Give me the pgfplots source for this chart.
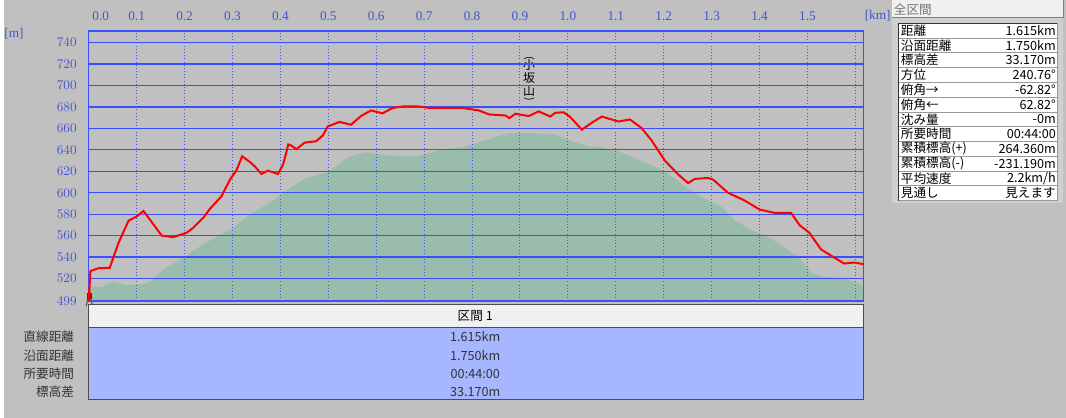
\documentclass[border=0pt]{standalone}
\usepackage{pgfplots}
\pgfplotsset{compat=1.18}
\usepackage{fontspec}
\setmainfont{Noto Sans CJK JP}
\newfontfamily\numfont{Liberation Serif}

\definecolor{bggray}{HTML}{C0C0C0}
\definecolor{plotbg}{HTML}{DCDCDC}
\definecolor{gridblue}{HTML}{3A50FF}
\definecolor{tickblue}{HTML}{4455CC}
\definecolor{terrain}{HTML}{9ABDAB}
\definecolor{rowblue}{HTML}{A6B6FF}
\definecolor{hdrwhite}{HTML}{F0F0F0}
\definecolor{panelgray}{HTML}{D0D0D0}

% one row of the summary panel: row index, label, value
\newcommand\prow[3]{%
  \node[anchor=west,inner sep=0] at (900,{23+14.83*(#1+0.5)}) {#2};
  \node[anchor=east,inner sep=0] at (1056,{23+14.83*(#1+0.5)}) {#3};}

\begin{document}
\begin{tikzpicture}[font=\fontsize{9.5}{11}\selectfont]
% screen pixels: 1px = 0.75pt, y downwards
\begin{scope}[x=0.75pt,y=-0.75pt]
\useasboundingbox (0,0) rectangle (1066,419);
\fill[bggray] (0,0) rectangle (1066,419);
\end{scope}

\begin{axis}[
  at={(63.75pt,-226.5pt)}, anchor=south west, scale only axis,
  width=583.5pt, height=203.25pt,
  xmin=0, xmax=1.6175, ymin=499, ymax=750.6,
  set layers=axis on top,
  axis background/.style={fill=plotbg},
  axis line style={gridblue, line width=1pt},
  xtick={0.1,0.2,0.3,0.4,0.5,0.6,0.7,0.8,0.9,1.0,1.1,1.2,1.3,1.4,1.5,1.6},
  xticklabels={0.1,0.2,0.3,0.4,0.5,0.6,0.7,0.8,0.9,1.0,1.1,1.2,1.3,1.4,1.5,{}},
  xticklabel pos=upper,
  ytick={499,520,540,560,580,600,620,640,660,680,700,720,740},
  major tick length=0pt,
  xmajorgrids, ymajorgrids,
  x grid style={gridblue, dotted, line width=0.75pt},
  y grid style={gridblue, line width=1pt},
  tick label style={font=\numfont\fontsize{10}{12}\selectfont, text=tickblue},
  xticklabel style={yshift=4pt},
  yticklabel style={xshift=-5.5pt},
]
\addplot[draw=none, fill=terrain] coordinates {
  (0,499) (0,512.3) (0.0277,512.3) (0.0484,517) (0.0796,513.9) (0.1143,514.8)
  (0.1316,518) (0.1559,528.7) (0.1975,539.6) (0.2391,552) (0.3015,567.4)
  (0.3362,579.8) (0.3778,590.6) (0.4262,606) (0.4538,613.8) (0.4990,619)
  (0.5441,634) (0.5786,637.6) (0.6202,634.8) (0.6826,634) (0.7380,640)
  (0.7865,643) (0.8281,649) (0.8767,655.4) (0.8975,656) (0.9736,654.4)
  (1.0015,649) (1.0430,643) (1.0707,642.3) (1.1054,638.6) (1.1400,632.4)
  (1.2023,620) (1.2439,606) (1.2786,596) (1.3202,587) (1.3479,574.6)
  (1.3825,565.3) (1.4172,559) (1.4449,551.3) (1.4796,540.6) (1.5073,525)
  (1.5349,522) (1.5765,520.4) (1.6044,515.8) (1.6175,512.7) (1.6175,499)
};
\addplot[on layer=axis foreground, red, line width=1.5pt] coordinates {
  (0,499) (0.0035,527) (0.0208,529.7) (0.0437,530) (0.0624,553.5) (0.0832,574)
  (0.1004,578) (0.1143,583) (0.1351,570.5) (0.1524,560) (0.1767,558.7)
  (0.2044,562.8) (0.2183,567.4) (0.2391,576.7) (0.2530,585) (0.2771,596.8)
  (0.2946,612) (0.3083,621) (0.3202,634) (0.3362,628.7) (0.3466,624.6)
  (0.3603,617.5) (0.3742,620.6) (0.3950,617.5) (0.4054,626) (0.4127,638)
  (0.4165,645) (0.4227,644) (0.4331,640.6) (0.4505,646.7) (0.4746,648)
  (0.4886,653.5) (0.4990,661.8) (0.5233,666) (0.5474,663.4) (0.5682,671.5)
  (0.5890,676.7) (0.6133,674) (0.6341,679) (0.6549,680.4) (0.6896,680.4)
  (0.7104,679) (0.7796,679) (0.8143,676.7) (0.8351,673) (0.8696,672)
  (0.8780,669.6) (0.8904,673.6) (0.9183,671.5) (0.9391,675.8) (0.9632,671)
  (0.9736,674.5) (0.9911,675) (1.0048,670.6) (1.0291,658.8) (1.0499,665.3)
  (1.0707,671) (1.1054,666.4) (1.1295,668.3) (1.1538,660.3) (1.1746,648.8)
  (1.2023,630) (1.2301,617) (1.2509,609) (1.2647,612.9) (1.2925,613.8)
  (1.3029,612.3) (1.3341,600) (1.3686,592.8) (1.3998,584.4) (1.4310,581.3)
  (1.4657,581.3) (1.4830,570) (1.5037,562.8) (1.5281,547.3) (1.5557,539.6)
  (1.5765,534) (1.5973,535) (1.6175,533.4)
};
\end{axis}

\begin{scope}[x=0.75pt,y=-0.75pt]
% extra axis texts
\node[text=tickblue, font=\numfont\fontsize{10}{12}\selectfont] at (97,16) {0.0};
\node[text=tickblue, font=\numfont\fontsize{10}{12}\selectfont] at (877,16) {[km]};
\node[text=tickblue, font=\numfont\fontsize{10}{12}\selectfont] at (10,34) {[m]};

% peak name, vertical
\node[inner sep=0, font=\fontsize{8}{8}\selectfont] at (527,58) {\rotatebox{-90}{(}};
\node[inner sep=0, font=\fontsize{9}{10}\selectfont] at (527,65) {小};
\node[inner sep=0, font=\fontsize{9}{10}\selectfont] at (527,78) {坂};
\node[inner sep=0, font=\fontsize{9}{10}\selectfont] at (527,91) {山};
\node[inner sep=0, font=\fontsize{8}{8}\selectfont] at (527,99) {\rotatebox{-90}{)}};

% walker icon at start
\fill[red!70!black] (83,294) rectangle (88,300);
\fill[orange] (84.5,291) rectangle (87,294);
\draw[brown!60!black, line width=0.8pt] (84,300) -- (82.5,307) (87,300) -- (89,307);

% bottom section table
\filldraw[fill=hdrwhite, draw=black!70] (85,305) rectangle (862,328);
\filldraw[fill=rowblue, draw=black!70] (85,328) rectangle (862,401);
\node at (473,317) {区間 1};
\begin{scope}[text=black!80]
\node at (473,338) {1.615km};
\node at (473,357) {1.750km};
\node at (473,375) {00:44:00};
\node at (473,393) {33.170m};
\node[anchor=east] at (75,338) {直線距離};
\node[anchor=east] at (75,357) {沿面距離};
\node[anchor=east] at (75,375) {所要時間};
\node[anchor=east] at (75,393) {標高差};
\end{scope}

% summary panel
\fill[panelgray] (891,17) rectangle (1063,204);
\fill[hdrwhite] (891,0) rectangle (1063,17);
\draw[black!50] (891,17) -- (1063,17) -- (1063,0);
\node[anchor=west, text=black!55, inner sep=0] at (893,9) {全区間};
\fill[white] (898,23) rectangle (1057,201);
\foreach \i in {1,...,11} \draw[black!40] (898,{23+14.83*\i}) -- (1057,{23+14.83*\i});
\draw[black!40] (898,201) -- (1057,201) -- (1057,23);
\draw[black!80] (898,201) -- (898,23) -- (1057,23);
\prow{0}{距離}{1.615km}
\prow{1}{沿面距離}{1.750km}
\prow{2}{標高差}{33.170m}
\prow{3}{方位}{240.76°}
\prow{4}{俯角→}{-62.82°}
\prow{5}{俯角←}{62.82°}
\prow{6}{沈み量}{-0m}
\prow{7}{所要時間}{00:44:00}
\prow{8}{累積標高(+)}{264.360m}
\prow{9}{累積標高(-)}{-231.190m}
\prow{10}{平均速度}{2.2km/h}
\prow{11}{見通し}{見えます}
\end{scope}
\end{tikzpicture}
\end{document}
